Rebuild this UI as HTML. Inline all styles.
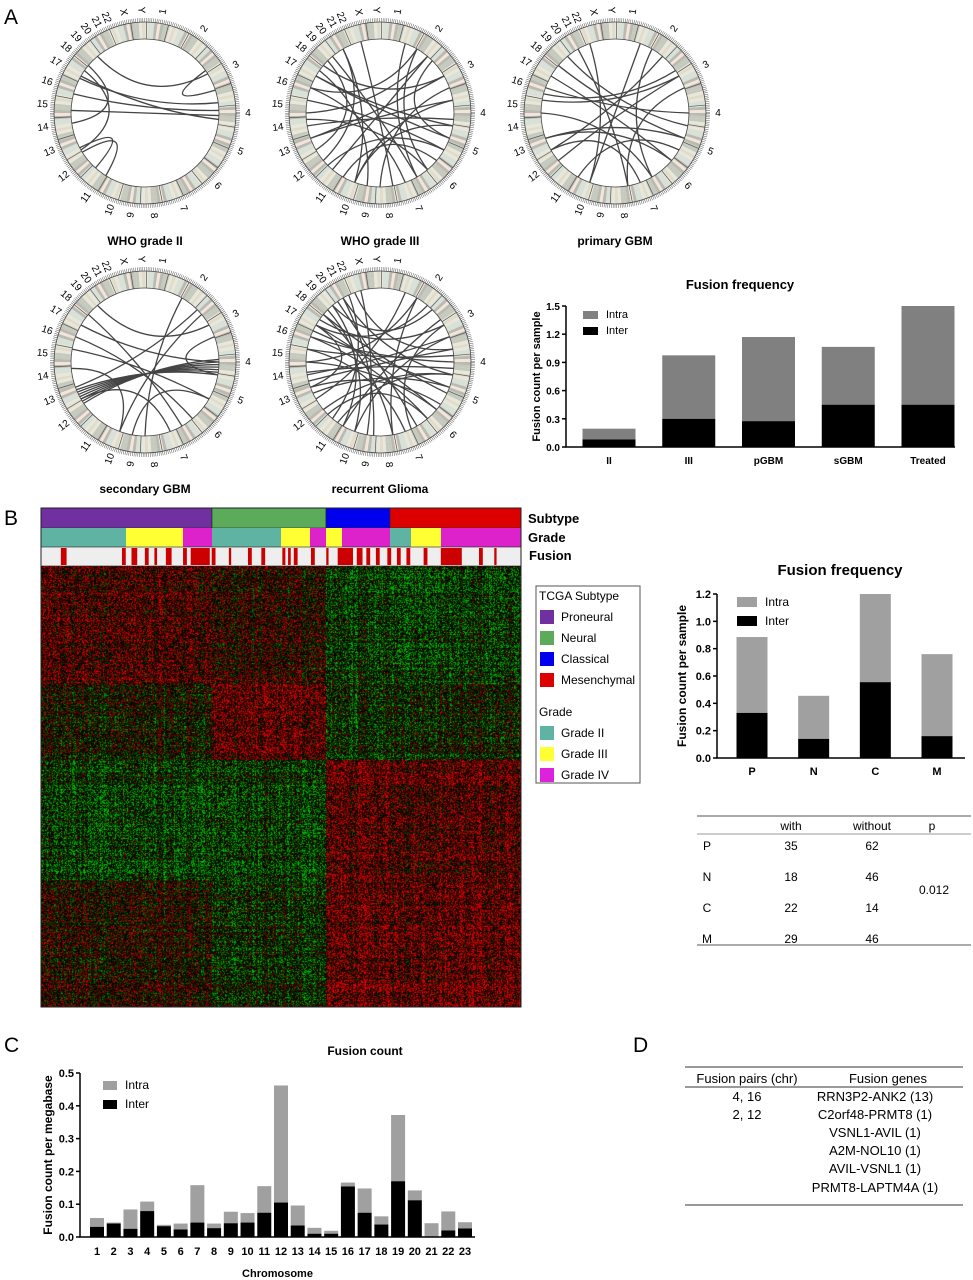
<!DOCTYPE html>
<html><head><meta charset="utf-8">
<style>
body{margin:0;background:#fff}
#wrap{position:relative;width:973px;height:1280px;overflow:hidden;font-family:"Liberation Sans",sans-serif}
#fig{position:absolute;left:0;top:0}
#heat{position:absolute;left:41px;top:566px}
</style></head>
<body>
<div id="wrap">
<canvas id="heat" width="480" height="441"></canvas>
<svg id="fig" width="973" height="1280" xmlns="http://www.w3.org/2000/svg" font-family="Liberation Sans, sans-serif">
<text x="4" y="24" font-size="21">A</text>
<text x="4" y="525" font-size="21">B</text>
<text x="4" y="1052" font-size="21">C</text>
<text x="633" y="1052" font-size="21">D</text>

<g font-weight="bold" font-size="12" text-anchor="middle">
<text x="145" y="245">WHO grade II</text>
<text x="380" y="245">WHO grade III</text>
<text x="615" y="245">primary GBM</text>
<text x="145" y="493">secondary GBM</text>
<text x="380" y="493">recurrent Glioma</text>
</g>

<g font-size="13" font-weight="bold">
<text x="528" y="523">Subtype</text>
<text x="528" y="542">Grade</text>
<text x="529" y="560">Fusion</text>
</g>
<g id="tracks"></g>
<rect x="41" y="508" width="480" height="499" fill="none" stroke="#222" stroke-width="1"/>

<g font-size="12">
<rect x="536" y="586" width="104" height="197" fill="#fff" stroke="#555"/>
<text x="539" y="600">TCGA Subtype</text>
<rect x="540" y="610" width="14" height="14" fill="#7030a0"/>
<text x="561" y="621">Proneural</text>
<rect x="540" y="631" width="14" height="14" fill="#5bab5b"/>
<text x="561" y="642">Neural</text>
<rect x="540" y="652" width="14" height="14" fill="#0000ee"/>
<text x="561" y="663">Classical</text>
<rect x="540" y="673" width="14" height="14" fill="#dd0000"/>
<text x="561" y="684">Mesenchymal</text>
<text x="539" y="716">Grade</text>
<rect x="540" y="726" width="14" height="14" fill="#5fb3a3"/>
<text x="561" y="737">Grade II</text>
<rect x="540" y="747" width="14" height="14" fill="#ffff33"/>
<text x="561" y="758">Grade III</text>
<rect x="540" y="768" width="14" height="14" fill="#dd22dd"/>
<text x="561" y="779">Grade IV</text>
</g>

<g font-size="12" text-anchor="middle">
<line x1="697" y1="816" x2="971" y2="816" stroke="#555"/>
<line x1="697" y1="834" x2="971" y2="834" stroke="#999"/>
<line x1="697" y1="945" x2="971" y2="945" stroke="#555"/>
<text x="791" y="830">with</text>
<text x="872" y="830">without</text>
<text x="932" y="830">p</text>
<text x="707" y="850">P</text><text x="791" y="850">35</text><text x="872" y="850">62</text>
<text x="707" y="881">N</text><text x="791" y="881">18</text><text x="872" y="881">46</text>
<text x="707" y="912">C</text><text x="791" y="912">22</text><text x="872" y="912">14</text>
<text x="707" y="943">M</text><text x="791" y="943">29</text><text x="872" y="943">46</text>
<text x="934" y="894">0.012</text>
</g>

<g font-size="13" text-anchor="middle">
<line x1="685" y1="1067" x2="963" y2="1067" stroke="#333"/>
<line x1="685" y1="1087" x2="963" y2="1087" stroke="#333"/>
<line x1="685" y1="1205" x2="963" y2="1205" stroke="#333"/>
<text x="747" y="1083">Fusion pairs (chr)</text>
<text x="888" y="1083">Fusion genes</text>
<text x="747" y="1101">4, 16</text>
<text x="747" y="1119">2, 12</text>
<text x="875" y="1101">RRN3P2-ANK2 (13)</text>
<text x="875" y="1119">C2orf48-PRMT8 (1)</text>
<text x="875" y="1137">VSNL1-AVIL (1)</text>
<text x="875" y="1155">A2M-NOL10 (1)</text>
<text x="875" y="1173">AVIL-VSNL1 (1)</text>
<text x="875" y="1192">PRMT8-LAPTM4A (1)</text>
</g>
<g id="charts"></g>
<g id="circos"></g>
</svg>
</div>
<script>
// ===== Chart A: fusion frequency by grade =====
const gradeCats = ["II","III","pGBM","sGBM","Treated"];
const gradeTotal = [0.195,0.975,1.17,1.065,1.5];
const gradeInter = [0.08,0.30,0.275,0.45,0.45];
const gradeTicks = [0,0.3,0.6,0.9,1.2,1.5];
const gradeTickLabels = ["0.0","0.3","0.6","0.9","1.2","1.5"];
// ===== Chart B: fusion frequency by subtype =====
const subCats = ["P","N","C","M"];
const subTotal = [0.885,0.455,1.2,0.76];
const subInter = [0.33,0.14,0.555,0.16];
const subTicks = [0,0.2,0.4,0.6,0.8,1.0,1.2];
const subTickLabels = ["0.0","0.2","0.4","0.6","0.8","1.0","1.2"];
// ===== Chart C: fusion count per chromosome =====
const chrCats = ["1","2","3","4","5","6","7","8","9","10","11","12","13","14","15","16","17","18","19","20","21","22","23"];
const chrTotal = [0.058,0.044,0.084,0.108,0.037,0.041,0.158,0.041,0.077,0.073,0.155,0.462,0.096,0.028,0.019,0.166,0.148,0.063,0.372,0.142,0.042,0.078,0.045];
const chrInter = [0.031,0.041,0.025,0.079,0.033,0.023,0.044,0.027,0.042,0.044,0.074,0.105,0.035,0.010,0.010,0.154,0.074,0.038,0.170,0.112,0.000,0.020,0.026];
const chrTicks = [0,0.1,0.2,0.3,0.4,0.5];
const chrTickLabels = ["0.0","0.1","0.2","0.3","0.4","0.5"];

const NS="http://www.w3.org/2000/svg";
function mk(tag,attrs,parent){const e=document.createElementNS(NS,tag);for(const k in attrs)e.setAttribute(k,attrs[k]);parent.appendChild(e);return e;}
const charts=document.getElementById('charts');

function stacked(c){
  const g=mk('g',{},charts);
  
  
  const y=v=>c.y0-(v/c.ymax)*(c.y0-c.y1);
  const n=c.cats.length;
  const xc=i=>c.xFirst+i*(c.xLast-c.xFirst)/(n-1);
  for(let i=0;i<n;i++){
    const intra=mk('rect',{x:xc(i)-c.bw/2,y:y(c.total[i]),width:c.bw,height:y(c.inter[i])-y(c.total[i]),fill:c.intraColor},g);
    
    
    const inter=mk('rect',{x:xc(i)-c.bw/2,y:y(c.inter[i]),width:c.bw,height:c.y0-y(c.inter[i]),fill:'#000'},g);
    
    
    const t=mk('text',{x:xc(i),y:c.y0+c.labDy,'font-size':c.fs,'font-weight':'bold','text-anchor':'middle'},g);
    t.textContent=c.cats[i];
    
    
  }
  const ax=mk('path',{d:`M${c.ax} ${c.y1} V${c.y0} H${c.axEnd}`,fill:'none',stroke:'#000','stroke-width':1.5},g);
  
  
  c.ticks.forEach((v,i)=>{
    mk('line',{x1:c.ax-4,x2:c.ax,y1:y(v),y2:y(v),stroke:'#000','stroke-width':1.5},g);
    const t=mk('text',{x:c.ax-6,y:y(v)+4,'font-size':c.fs,'font-weight':'bold','text-anchor':'end'},g);
    t.textContent=c.tickLabels[i];
    
    
  });
  const yt=mk('text',{transform:`translate(${c.ytX},${(c.y0+c.y1)/2}) rotate(-90)`,'font-size':c.fs+1,'font-weight':'bold','text-anchor':'middle'},g);
  yt.textContent=c.ytitle;
  
  
  const tt=mk('text',{x:c.titleX,y:c.titleY,'font-size':c.titleFs,'font-weight':'bold','text-anchor':'middle'},g);
  tt.textContent=c.title;
  
  
  const l1=mk('rect',{x:c.legX,y:c.legY,width:c.legW,height:c.legH,fill:c.intraColor},g);
  
  
  const l2=mk('rect',{x:c.legX,y:c.legY+c.legGap,width:c.legW,height:c.legH,fill:'#000'},g);
  
  
  const lt1=mk('text',{x:c.legX+c.legW+8,y:c.legY+c.legH-1,'font-size':c.fs+1},g);
  lt1.textContent='Intra';
  
  
  const lt2=mk('text',{x:c.legX+c.legW+8,y:c.legY+c.legGap+c.legH-1,'font-size':c.fs+1},g);
  lt2.textContent='Inter';
  
  
  if(c.xtitle){const xt=mk('text',{x:(c.ax+c.axEnd)/2,y:c.xtY,'font-size':c.fs,'font-weight':'bold','text-anchor':'middle'},g);
    xt.textContent=c.xtitle;
    
    }
}
stacked({name:'grade-fusion-chart',cats:gradeCats,total:gradeTotal,inter:gradeInter,ticks:gradeTicks,tickLabels:gradeTickLabels,ymax:1.5,
  y0:447,y1:306,ax:566,axEnd:955,xFirst:609,xLast:928,bw:53,fs:10,labDy:17,intraColor:'#808080',ytitle:'Fusion count per sample',ytX:540,
  title:'Fusion frequency',titleX:740,titleY:289,titleFs:13,legX:583,legY:311,legW:15,legH:8,legGap:16});
stacked({name:'subtype-fusion-chart',cats:subCats,total:subTotal,inter:subInter,ticks:subTicks,tickLabels:subTickLabels,ymax:1.2,
  y0:758,y1:594,ax:717,axEnd:965,xFirst:752,xLast:937,bw:31,fs:11,labDy:17,intraColor:'#a0a0a0',ytitle:'Fusion count per sample',ytX:686,
  title:'Fusion frequency',titleX:840,titleY:575,titleFs:15,legX:737,legY:597,legW:20,legH:10,legGap:19});
stacked({name:'chromosome-fusion-chart',cats:chrCats,total:chrTotal,inter:chrInter,ticks:chrTicks,tickLabels:chrTickLabels,ymax:0.5,
  y0:1237,y1:1073,ax:80,axEnd:475,xFirst:97,xLast:465,bw:14,fs:11,labDy:18,intraColor:'#a0a0a0',ytitle:'Fusion count per megabase',ytX:52,
  title:'Fusion count',titleX:365,titleY:1055,titleFs:12,legX:103,legY:1081,legW:14,legH:9,legGap:19,xtitle:'Chromosome',xtY:1277});

// ===== Heatmap annotation tracks =====
const tracks=document.getElementById('tracks');
const subtypeSegs=[[41,212,'#7030a0'],[212,326,'#5bab5b'],[326,390,'#0000ee'],[390,521,'#dd0000']];
const gradeSegs=[[41,126,'#5fb3a3'],[126,183,'#ffff33'],[183,212,'#dd22cc'],[212,281,'#5fb3a3'],[281,310,'#ffff33'],[310,326,'#dd22cc'],[326,342,'#ffff33'],[342,390,'#dd22cc'],[390,411,'#5fb3a3'],[411,441,'#ffff33'],[441,521,'#dd22cc']];
subtypeSegs.forEach(s=>{const r=mk('rect',{x:s[0],y:508,width:s[1]-s[0],height:20,fill:s[2],stroke:'#222','stroke-width':0.6},tracks);
  
  });
gradeSegs.forEach(s=>{const r=mk('rect',{x:s[0],y:528,width:s[1]-s[0],height:19,fill:s[2]},tracks);
  
  });
const fbg=mk('rect',{x:41,y:547,width:480,height:19,fill:'#eeeeee',stroke:'#222','stroke-width':0.6},tracks);


const fusionZ=[[80,95],[240,250],[265,280],[300,310],[325,332],[355,370],[400,410],[420,470],[475,485],[520,526],[570,580],[605,615],[660,668],[675,682],[690,700],[735,745],[775,781],[805,845],[855,870],[880,890],[905,915],[935,945],[960,970],[985,995],[1030,1040],[1075,1130],[1175,1185],[1215,1221]];
fusionZ.forEach(z=>{const x0=41+(z[0]-28)/1257*480,x1=41+(z[1]-28)/1257*480;
  const r=mk('rect',{x:x0,y:548,width:Math.max(1.5,x1-x0),height:17,fill:'#cc0000'},tracks);
  
  });

// ===== Heatmap texture =====
(function(){
  const cv=document.getElementById('heat'),ctx=cv.getContext('2d');
  const W=480,H=441,img=ctx.createImageData(W,H);
  const colB=[0,171,285,349,480];
  const rowB=[0,118,194,314,441];
  const means=[[0.3,0.12,-0.3,-0.3],[-0.05,0.4,-0.25,-0.12],[-0.3,-0.3,0.4,0.38],[0.08,-0.2,0.42,0.45]];
  let s=12345;const rnd=()=>{s=(s*1103515245+12345)&0x7fffffff;return s/0x7fffffff;};
  const colOff=[];for(let x=0;x<W;x++)colOff.push((rnd()-0.5)*0.5);
  const rowOff=[];for(let y=0;y<H;y++)rowOff.push((rnd()-0.5)*0.4);
  for(let y=0;y<H;y++){
    let rb=0;while(y>=rowB[rb+1])rb++;
    for(let x=0;x<W;x++){
      let cb=0;while(x>=colB[cb+1])cb++;
      const v=means[rb][cb]+colOff[x]+rowOff[y]+(rnd()-0.5)*1.5;
      let r=0,g=0;
      if(v>0)r=Math.pow(Math.min(1,v),1.4)*225;else g=Math.pow(Math.min(1,-v),1.4)*190;
      const i=(y*W+x)*4;img.data[i]=r;img.data[i+1]=g;img.data[i+2]=0;img.data[i+3]=255;
    }
  }
  ctx.putImageData(img,0,0);
})();

// ===== Circos plots =====
const chrLabels=["1","2","3","4","5","6","7","8","9","10","11","12","13","14","15","16","17","18","19","20","21","22","X","Y"];
const chrAngles=[10,35,62,90,112,135,158,175,188,200,215,232,248,262,275,288,300,310,318,325,332,338,348,358];
const circosSets=[
 {cx:145,cy:113,name:'circos-grade2',links:[[300,95],[305,240],[310,262],[285,88],[320,58],[55,72],[272,92],[238,212],[242,222],[298,82]]},
 {cx:380,cy:113,name:'circos-grade3',links:[[300,100],[310,60],[320,150],[280,120],[270,40],[330,200],[345,170],[20,150],[40,220],[60,250],[80,200],[95,260],[110,300],[130,210],[140,30],[160,290],[180,70],[200,100],[230,330],[250,80],[265,140],[290,30],[305,190],[315,240],[225,120],[45,110]]},
 {cx:615,cy:113,name:'circos-pgbm',links:[[300,130],[320,100],[330,170],[20,200],[40,240],[60,280],[90,290],[110,310],[130,250],[150,30],[170,70],[200,340],[230,60],[250,110],[270,150],[285,55],[240,160],[210,120]]},
 {cx:145,cy:362,name:'circos-sgbm',links:[[300,90],[310,150],[320,60],[30,180],[50,200],[70,100],[120,190],[140,290],[160,240],[250,45],[236,88],[238,90],[240,92],[242,94],[244,96],[246,98],[248,100],[280,120],[265,200]]},
 {cx:380,cy:362,name:'circos-recurrent',links:[[290,90],[295,110],[300,130],[305,60],[310,170],[315,200],[320,45],[325,150],[330,100],[335,220],[340,80],[345,190],[20,240],[30,270],[40,300],[55,210],[70,260],[85,280],[100,230],[115,310],[125,250],[140,290],[155,60],[170,30],[185,330],[200,70],[215,100],[225,140],[245,110],[255,80],[270,130],[280,160],[262,95],[250,300],[210,320]]}
];
const circ=document.getElementById('circos');
const pal=['#e9e7da','#d3d4c6','#f2f0e6','#c6cabe','#e0dccb','#b9bbb1','#ecdcd2','#dcd8e6','#d8e0d8','#f4e4dc'];
function pt(cx,cy,r,a){const t=(a-90)*Math.PI/180;return [cx+r*Math.cos(t),cy+r*Math.sin(t)];}
circosSets.forEach(cs=>{
  const g=mk('g',{},circ);
  
  
  const R0=74,R1=91;
  for(let i=0;i<180;i++){
    const a0=i*2,a1=a0+2.05;
    const p0=pt(cs.cx,cs.cy,R1,a0),p1=pt(cs.cx,cs.cy,R1,a1),q1=pt(cs.cx,cs.cy,R0,a1),q0=pt(cs.cx,cs.cy,R0,a0);
    const col=pal[(i*7+(i*i)%5)%pal.length];
    mk('path',{d:`M${p0[0]} ${p0[1]} A${R1} ${R1} 0 0 1 ${p1[0]} ${p1[1]} L${q1[0]} ${q1[1]} A${R0} ${R0} 0 0 0 ${q0[0]} ${q0[1]}Z`,fill:col},g);
    if((i*13)%7===0){const a=pt(cs.cx,cs.cy,R1,a0+1),b=pt(cs.cx,cs.cy,R0,a0+1);mk('line',{x1:a[0],y1:a[1],x2:b[0],y2:b[1],stroke:'#555','stroke-width':0.7},g);}
  }
  mk('circle',{cx:cs.cx,cy:cs.cy,r:R1,fill:'none',stroke:'#444','stroke-width':0.8},g);
  mk('circle',{cx:cs.cx,cy:cs.cy,r:R0,fill:'none',stroke:'#444','stroke-width':0.8},g);
  mk('circle',{cx:cs.cx,cy:cs.cy,r:93,fill:'none',stroke:'#555','stroke-width':4,'stroke-dasharray':'0.5 1.3'},g);
  chrLabels.forEach((lab,i)=>{
    const p=pt(cs.cx,cs.cy,103,chrAngles[i]);
    const t=mk('text',{x:p[0],y:p[1]+3,'font-size':10,'text-anchor':'middle',transform:`rotate(${chrAngles[i]>180?chrAngles[i]-270:chrAngles[i]-90} ${p[0]} ${p[1]})`},g);
    t.textContent=lab;
    
    
  });
  cs.links.forEach(l=>{
    const p=pt(cs.cx,cs.cy,R0,l[0]),q=pt(cs.cx,cs.cy,R0,l[1]);
    const c=[cs.cx+0.15*((p[0]+q[0])/2-cs.cx),cs.cy+0.15*((p[1]+q[1])/2-cs.cy)];
    const path=mk('path',{d:`M${p[0]} ${p[1]} Q${c[0]} ${c[1]} ${q[0]} ${q[1]}`,fill:'none',stroke:'#444','stroke-width':1.3},g);
    
    
  });
});
</script>
</body></html>
